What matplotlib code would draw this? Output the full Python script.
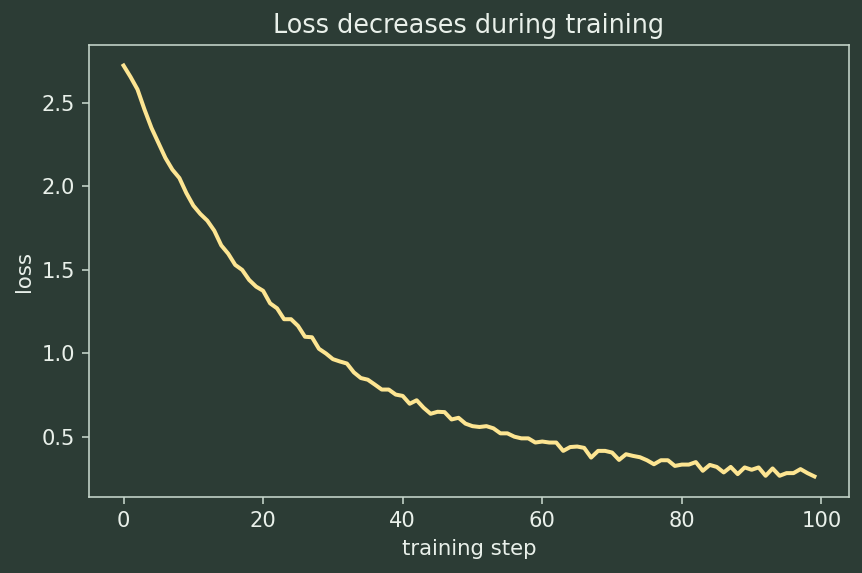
import matplotlib
matplotlib.use("Agg")
import matplotlib.pyplot as plt
import numpy as np

steps = list(range(100))
loss = [
    2.723, 2.655, 2.58, 2.46, 2.35, 2.26, 2.17, 2.10, 2.05, 1.96,
    1.885, 1.835, 1.795, 1.735, 1.647, 1.597, 1.53, 1.50, 1.44, 1.40,
    1.375, 1.30, 1.27, 1.205, 1.205, 1.165, 1.10, 1.097, 1.028, 1.0,
    0.966, 0.952, 0.94, 0.887, 0.853, 0.843, 0.814, 0.784, 0.784, 0.754,
    0.746, 0.699, 0.72, 0.675, 0.639, 0.651, 0.649, 0.605, 0.615, 0.58,
    0.565, 0.56, 0.565, 0.552, 0.522, 0.522, 0.502, 0.492, 0.492, 0.467,
    0.473, 0.467, 0.467, 0.417, 0.44, 0.443, 0.435, 0.377, 0.417, 0.417,
    0.407, 0.363, 0.397, 0.387, 0.379, 0.361, 0.337, 0.361, 0.361, 0.327,
    0.335, 0.335, 0.35, 0.298, 0.333, 0.321, 0.288, 0.321, 0.278, 0.318,
    0.304, 0.318, 0.268, 0.312, 0.268, 0.284, 0.284, 0.308, 0.284, 0.264,
]

title = "Loss decreases during training"
xlabel = "training step"
ylabel = "loss"

bg = "#2c3c35"
fg = "#e9f0ea"
spine_c = "#c6d6cb"
line_c = "#fde592"

dpi = 144
fig = plt.figure(figsize=(862 / dpi, 573 / dpi), dpi=dpi, facecolor=bg)
ax = fig.add_axes([89 / 862, (573 - 497) / 573, (849 - 89) / 862, (497 - 45) / 573])
ax.set_facecolor(bg)
ax.plot(steps, loss, color=line_c, linewidth=2.0)

for s in ax.spines.values():
    s.set_color(spine_c)
ax.tick_params(colors=spine_c, labelcolor=fg, labelsize=10.5)
ax.set_title(title, color=fg, fontsize=12.75)
ax.set_xlabel(xlabel, color=fg, fontsize=10.6)
ax.set_ylabel(ylabel, color=fg, fontsize=10.6)
ax.set_xticks([0, 20, 40, 60, 80, 100])
ax.set_yticks([0.5, 1.0, 1.5, 2.0, 2.5])

fig.savefig("out.png", dpi=dpi, facecolor=bg)
